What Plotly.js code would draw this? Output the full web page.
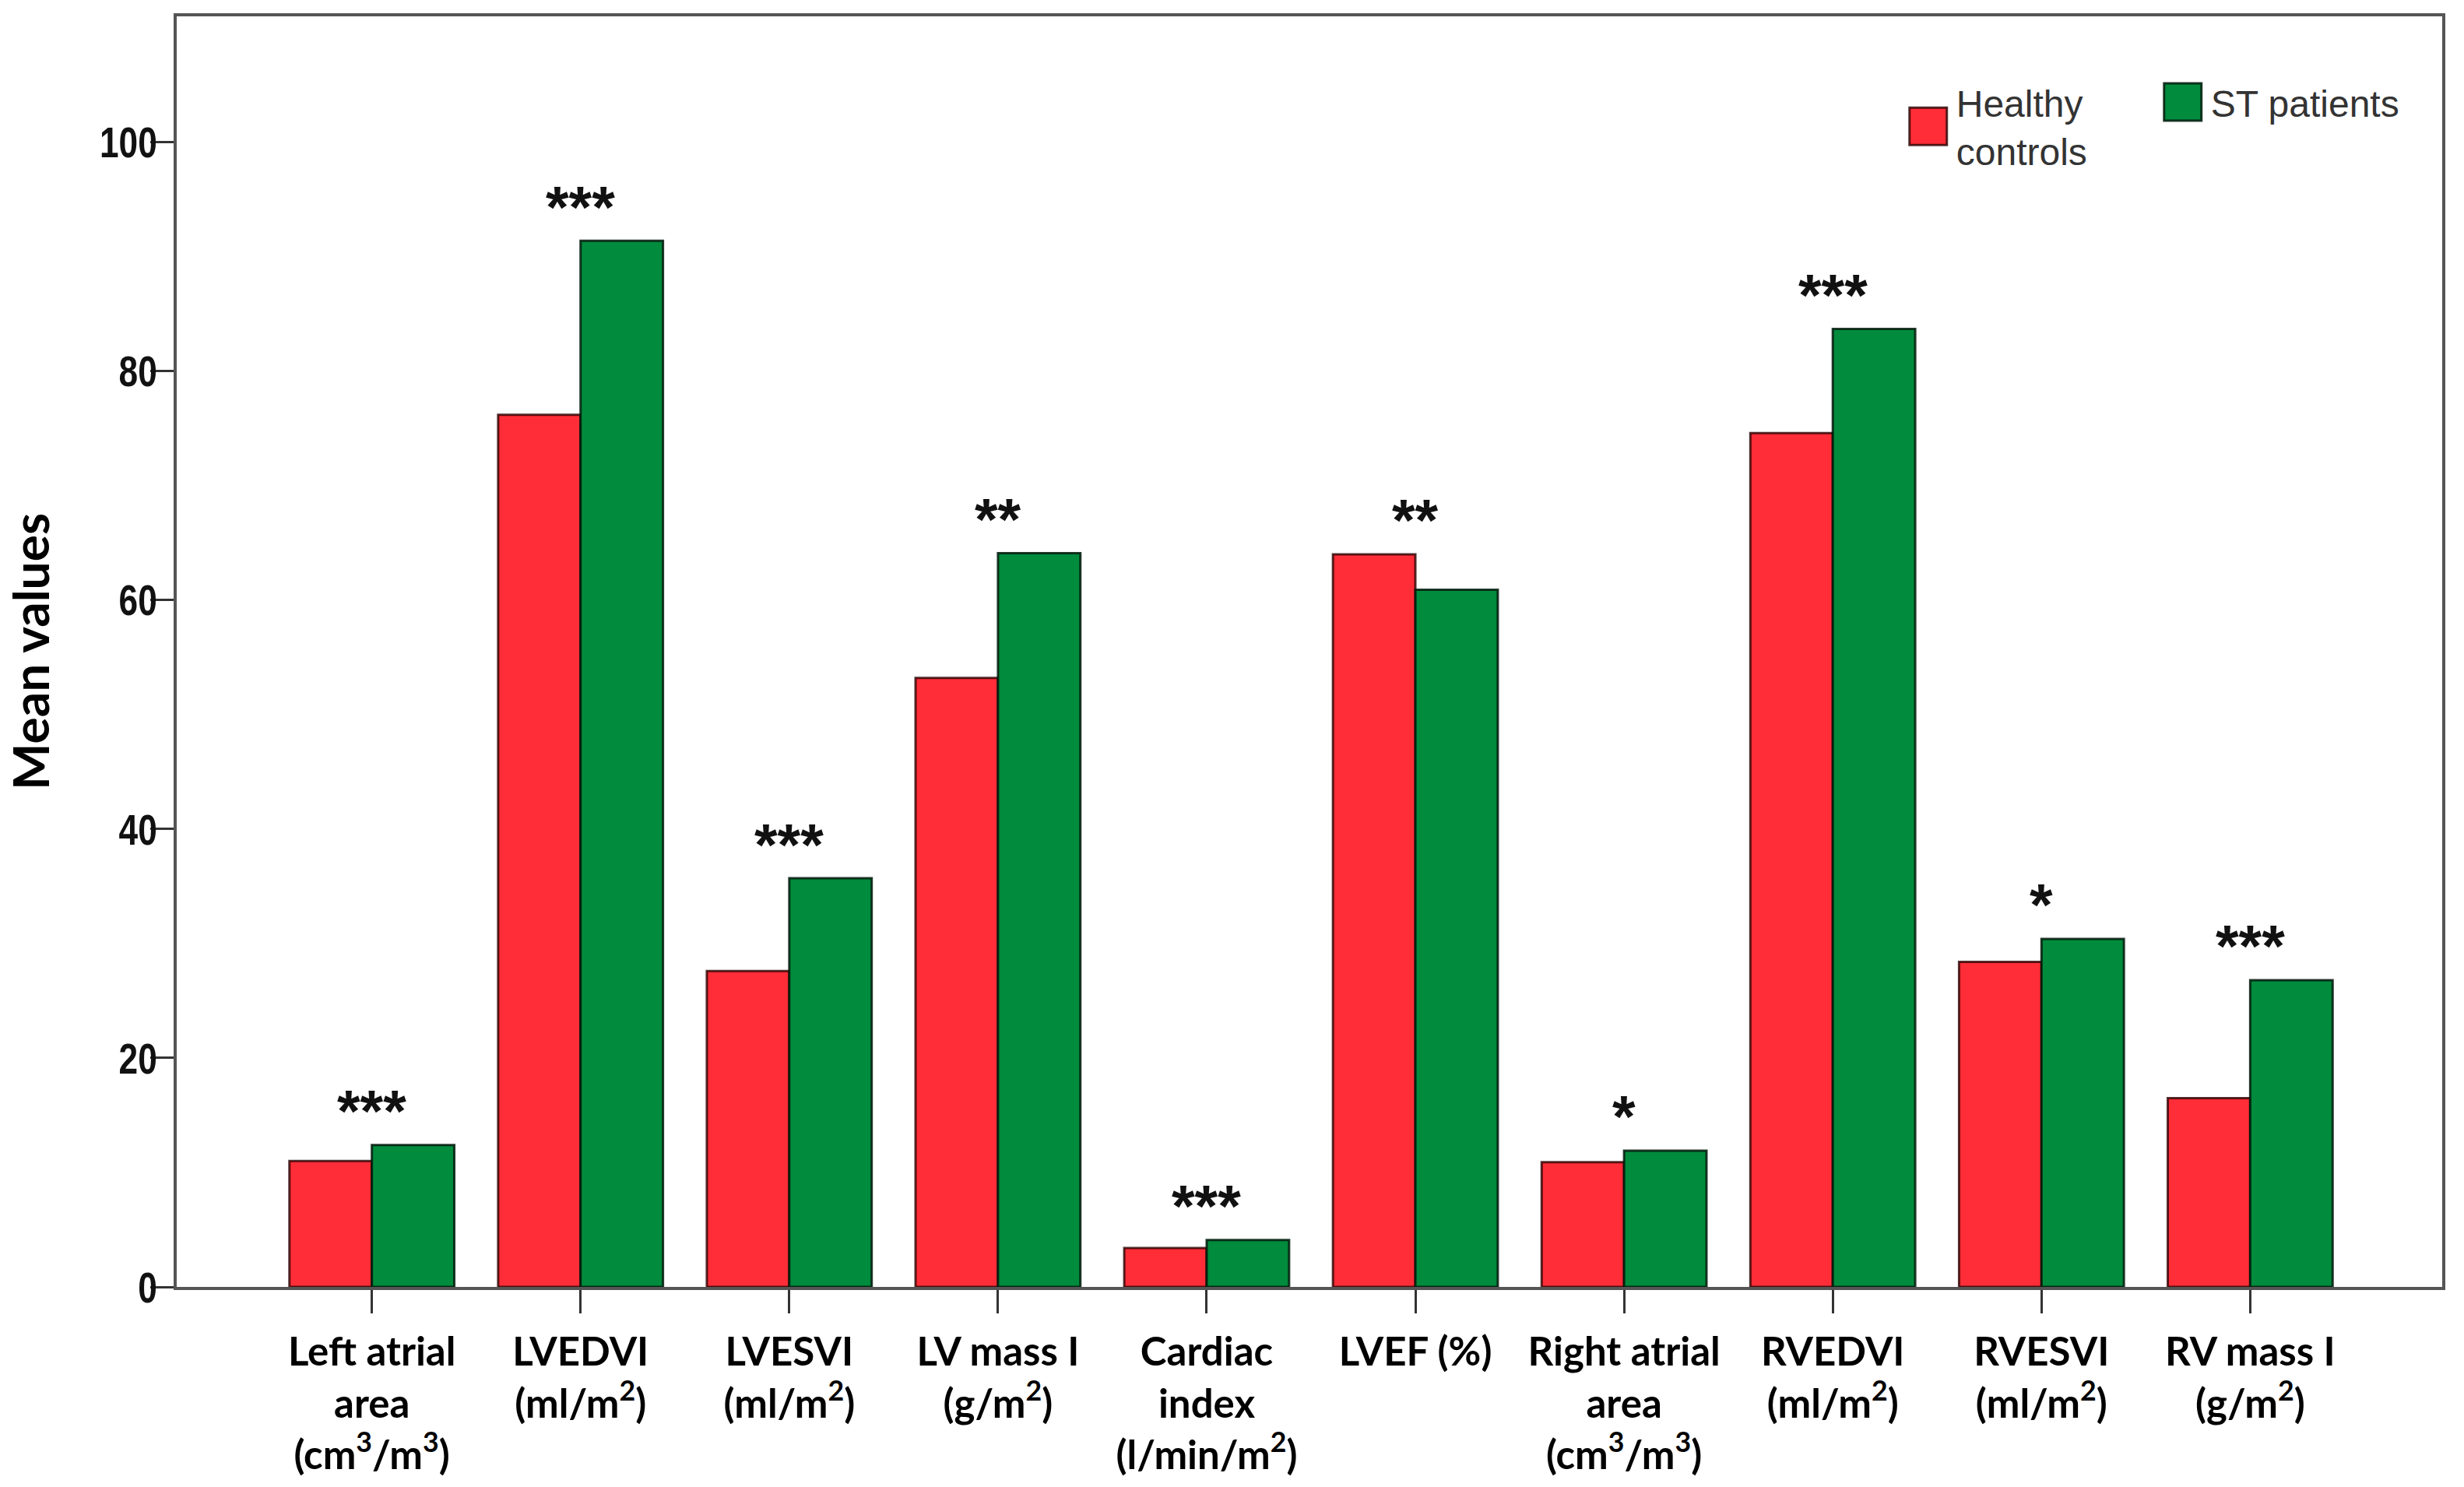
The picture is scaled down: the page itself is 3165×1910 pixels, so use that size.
<!DOCTYPE html>
<html><head><meta charset="utf-8">
<script src="https://cdn.plot.ly/plotly-3.0.1.min.js"></script>
<style>
html,body{margin:0;padding:0;background:#fff;}
#chart{width:3165px;height:1910px;}
.legend .legendpoints path{transform:translate(30px,0px) scale(4);stroke-width:0.75px !important;}
g.ytick{transform-box:fill-box;transform-origin:100% 50%;transform:translateX(20px) scaleX(0.79);}
</style></head><body><div id="chart"></div>
<script>
const categories = ['Left atrial area', 'LVEDVI', 'LVESVI', 'LV mass I', 'Cardiac index', 'LVEF (%)', 'Right atrial area', 'RVEDVI', 'RVESVI', 'RV mass I'];
const tickLabels = [
  'Left atrial<br>area<br>(cm<sup>3</sup>/m<sup>3</sup>)',
  'LVEDVI<br>(ml/m<sup>2</sup>)',
  'LVESVI<br>(ml/m<sup>2</sup>)',
  'LV mass I<br>(g/m<sup>2</sup>)',
  'Cardiac<br>index<br>(l/min/m<sup>2</sup>)',
  'LVEF (%)',
  'Right atrial<br>area<br>(cm<sup>3</sup>/m<sup>3</sup>)',
  'RVEDVI<br>(ml/m<sup>2</sup>)',
  'RVESVI<br>(ml/m<sup>2</sup>)',
  'RV mass I<br>(g/m<sup>2</sup>)'
];
const healthyControls = [11.0, 76.2, 27.6, 53.2, 3.4, 64.0, 10.9, 74.6, 28.4, 16.5];
const stPatients = [12.4, 91.4, 35.7, 64.1, 4.1, 60.9, 11.9, 83.7, 30.4, 26.8];
const significance = ['***', '***', '***', '**', '***', '**', '*', '***', '*', '***'];
const yTicks = [0, 20, 40, 60, 80, 100];

const traces = [
  {type: 'bar', name: 'Healthy<br>controls', x: categories, y: healthyControls,
   marker: {color: '#FF2D37', line: {color: 'rgba(40,0,0,0.8)', width: 3}}},
  {type: 'bar', name: 'ST patients', x: categories, y: stPatients,
   marker: {color: '#008B3D', line: {color: 'rgba(0,25,10,0.85)', width: 3}}}
];

const annotations = categories.map((c, i) => ({
  x: c, y: Math.max(healthyControls[i], stPatients[i]) + 3.0,
  xref: 'x', yref: 'y', text: significance[i], showarrow: false,
  yanchor: 'middle', font: {family: '"Liberation Sans", Arial, sans-serif', size: 76, color: '#111', weight: 'bold'}
}));

const layout = {
  width: 3165, height: 1910,
  margin: {l: 227, r: 28, t: 21, b: 257},
  paper_bgcolor: '#fff', plot_bgcolor: '#fff',
  barmode: 'group', bargap: 0.21, bargroupgap: 0,
  showlegend: true,
  legend: {orientation: 'h', x: 0.7628, y: 0.9557, xanchor: 'left', yanchor: 'top',
    bgcolor: 'rgba(0,0,0,0)', itemwidth: 56, entrywidth: 256, valign: 'middle',
    font: {family: '"Liberation Sans", Arial, sans-serif', size: 48, color: '#333'}},
  xaxis: {type: 'category', range: [-0.935, 9.92], tickvals: categories, ticktext: tickLabels,
    ticks: 'outside', ticklen: 30, tickwidth: 3, tickcolor: '#333', ticklabelstandoff: 6,
    showline: true, linecolor: '#555', linewidth: 4, mirror: true,
    showgrid: false, zeroline: false, automargin: false,
    tickfont: {family: 'Lato, "Open Sans", sans-serif', size: 51, color: '#000', weight: 'bold'}},
  yaxis: {range: [0, 111], tickvals: yTicks, ticks: 'outside', ticklen: 30, tickwidth: 3, tickcolor: '#333',
    showline: true, linecolor: '#555', linewidth: 4, mirror: true,
    showgrid: false, zeroline: false, automargin: false,
    tickfont: {family: '"Liberation Sans", Arial, sans-serif', size: 56, color: '#111', weight: 'bold'},
    title: {text: 'Mean values', standoff: 50,
      font: {family: 'Lato, "Open Sans", sans-serif', size: 64, color: '#000', weight: 'bold'}}},
  annotations: annotations
};

Plotly.newPlot('chart', traces, layout, {staticPlot: true});
</script></body></html>
